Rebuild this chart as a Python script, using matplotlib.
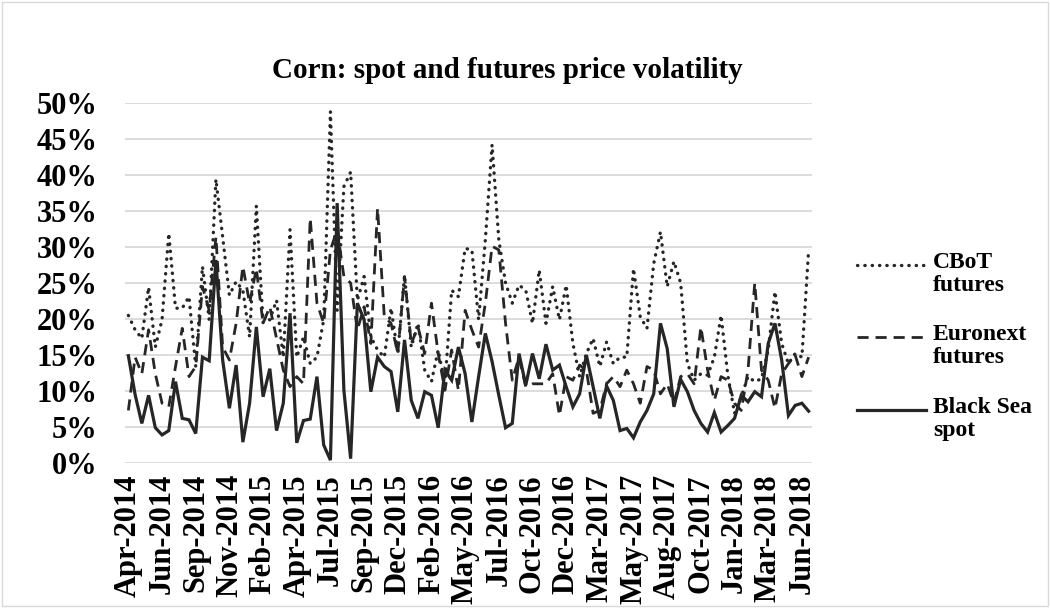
import matplotlib
matplotlib.use('Agg')
import matplotlib.pyplot as plt
from matplotlib.lines import Line2D
from matplotlib.patches import Rectangle
from matplotlib.ticker import FuncFormatter
import numpy as np

plt.rcParams['font.family'] = ['Liberation Serif', 'DejaVu Serif']
plt.rcParams['font.weight'] = 'bold'

# semi-monthly observations, Apr-2014 .. Jun-2018 (volatility, %)
cbot = [20.5, 18.5, 17.3, 24.4, 16.1, 19.9, 31.9, 21.5, 21.5, 23.1,
        13.4, 27.3, 19.9, 39.4, 31.4, 23.3, 25.2, 24.0, 17.5, 35.7,
        19.5, 19.9, 22.6, 14.7, 32.4, 14.7, 17.5, 13.8, 14.7, 19.9,
        48.8, 21.2, 38.4, 40.4, 22.6, 25.9, 17.5, 15.7, 14.7, 21.5,
        15.2, 26.1, 16.1, 19.4, 12.9, 11.3, 15.7, 11.0, 24.0, 23.1,
        29.8, 29.6, 19.9, 31.0, 44.2, 31.0, 25.0, 22.2, 24.7, 24.0,
        19.4, 26.8, 19.4, 24.5, 19.9, 24.7, 16.6, 12.0, 15.2, 17.3,
        13.4, 16.8, 13.8, 14.7, 14.7, 27.0, 20.3, 18.7, 27.7, 32.1,
        24.5, 28.0, 25.0, 13.8, 11.5, 12.4, 12.2, 14.7, 20.5, 12.2,
        6.9, 9.2, 12.0, 11.3, 11.7, 15.7, 23.8, 16.6, 13.8, 15.2,
        14.7, 29.6]
euronext = [7.3, 14.7, 12.4, 18.5, 12.4, 8.3, 7.8, 13.4, 18.7, 12.0,
            13.4, 24.5, 21.2, 31.4, 16.1, 14.3, 19.4, 27.3, 22.2, 27.0,
            19.4, 21.7, 17.3, 12.9, 10.6, 12.0, 11.0, 34.0, 22.2, 19.4,
            29.6, 32.4, 25.9, 25.0, 18.5, 21.7, 16.6, 35.4, 20.3, 19.4,
            15.2, 25.9, 16.6, 18.9, 15.2, 22.2, 15.2, 10.1, 15.7, 10.1,
            21.2, 18.5, 16.1, 22.2, 30.1, 29.6, 19.4, 11.5, 14.7, 10.6,
            11.0, 11.0, 11.0, 12.4, 6.6, 12.0, 11.5, 13.6, 12.9, 6.9,
            7.3, 11.0, 12.0, 10.6, 12.9, 11.0, 8.3, 13.4, 12.9, 9.6,
            11.0, 8.3, 12.0, 12.4, 11.0, 18.9, 12.9, 8.7, 12.0, 11.5,
            8.3, 7.3, 12.9, 25.0, 12.9, 11.5, 7.6, 12.4, 13.8, 15.0,
            12.0, 14.7]
black_sea = [14.9, 9.5, 5.5, 9.4, 4.9, 3.9, 4.5, 11.3, 6.2, 6.0,
             4.1, 14.7, 14.2, 28.2, 14.3, 7.6, 13.6, 2.9, 8.3, 18.9,
             9.2, 13.1, 4.5, 8.3, 20.8, 2.8, 5.9, 6.1, 12.0, 2.5,
             0.4, 36.1, 10.1, 0.6, 22.2, 19.9, 9.9, 14.7, 13.4, 12.7,
             7.1, 17.1, 8.7, 6.2, 9.9, 9.4, 4.9, 12.9, 11.5, 16.1,
             12.4, 5.7, 12.0, 18.0, 14.1, 9.4, 4.9, 5.5, 15.2, 10.8,
             15.2, 11.7, 16.5, 12.9, 13.6, 10.6, 7.8, 9.6, 15.0, 10.6,
             6.2, 10.7, 8.7, 4.5, 4.8, 3.5, 5.7, 7.3, 9.6, 19.4,
             15.9, 7.8, 11.6, 9.9, 7.3, 5.5, 4.3, 7.0, 4.3, 5.2,
             6.2, 9.4, 8.5, 9.9, 9.2, 16.6, 19.4, 14.3, 6.6, 8.0,
             8.3, 7.2]
tick_labels = ['Apr-2014', 'Jun-2014', 'Sep-2014', 'Nov-2014', 'Feb-2015',
               'Apr-2015', 'Jul-2015', 'Sep-2015', 'Dec-2015', 'Feb-2016',
               'May-2016', 'Jul-2016', 'Oct-2016', 'Dec-2016', 'Mar-2017',
               'May-2017', 'Aug-2017', 'Oct-2017', 'Jan-2018', 'Mar-2018',
               'Jun-2018']
series_names = ['CBoT\nfutures', 'Euronext\nfutures', 'Black Sea\nspot']

x = np.arange(len(cbot))
col = '#262626'
dot_style = dict(color=col, lw=2.4, linestyle=(0, (0.1, 2.1)), dash_capstyle='round')
dash_style = dict(color=col, lw=2.0, linestyle=(0, (4, 2.5)))
solid_style = dict(color=col, lw=2.3, linestyle='-', solid_joinstyle='miter')

fig = plt.figure(figsize=(10.5, 6.08), dpi=100)
ax = fig.add_axes([125 / 1050, 1 - 463 / 608, (812 - 125) / 1050, (463 - 103) / 608])

ax.plot(x, cbot, **dot_style)
ax.plot(x, euronext, **dash_style)
ax.plot(x, black_sea, **solid_style)

ax.set_ylim(0, 50)
ax.set_xlim(-0.5, len(cbot) - 0.5)
ax.set_yticks(np.arange(0, 51, 5))
ax.yaxis.set_major_formatter(FuncFormatter(lambda v, p: f'{v:.0f}%'))
ax.set_xticks(np.arange(0, len(cbot), 5))
ax.set_xticklabels(tick_labels, rotation=90)
ax.tick_params(axis='both', length=0, labelsize=22, colors='black')
ax.tick_params(axis='y', pad=20)
ax.tick_params(axis='x', pad=8)
ax.grid(axis='y', color='#d9d9d9', lw=1.3)
ax.set_axisbelow(True)
for s in ax.spines.values():
    s.set_visible(False)

fig.text(507 / 1050, 1 - 70 / 608, 'Corn: spot and futures price volatility',
         ha='center', va='center', fontsize=21, fontweight='bold')

# legend, drawn by hand so the sample lines sit on the first text line
styles = [dot_style, dash_style, solid_style]
leg_y = [265, 337, 410]
for name, st, y in zip(series_names, styles, leg_y):
    fy = 1 - y / 608
    fig.add_artist(Line2D([857 / 1050, 926 / 1050], [fy, fy], transform=fig.transFigure, **st))
    fig.text(933 / 1050, fy + 13 / 608, name, ha='left', va='top', fontsize=17,
             fontweight='bold', linespacing=1.1)

fig.add_artist(Rectangle((0.002, 0.003), 0.996, 0.994, transform=fig.transFigure,
                         fill=False, edgecolor='#d9d9d9', lw=1))

fig.savefig('out.png', dpi=100)
